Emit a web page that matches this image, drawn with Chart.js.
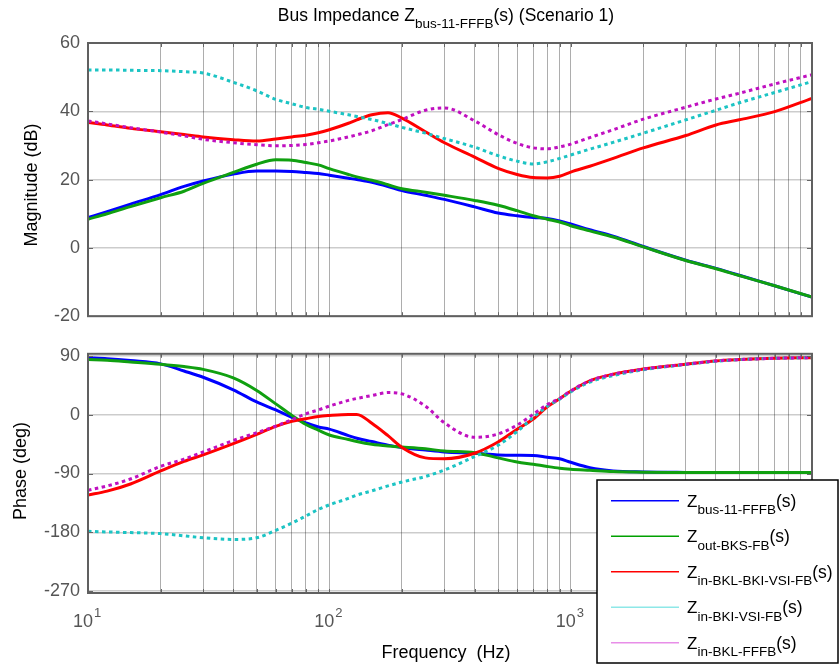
<!DOCTYPE html>
<html>
<head>
<meta charset="utf-8">
<script src="https://cdn.jsdelivr.net/npm/chart.js@4.4.1/dist/chart.umd.min.js"></script>
<style>
  html, body { margin: 0; padding: 0; background: #fff; }
  #wrap { position: relative; width: 839px; height: 668px; background: #fff; }
  canvas { position: absolute; left: 0; }
  #magChart { top: 0; }
  #phaseChart { top: 335px; }
</style>
</head>
<body>
<div id="wrap">
  <canvas id="magChart" width="839" height="335"></canvas>
  <canvas id="phaseChart" width="839" height="333"></canvas>
</div>
<script>
// ---- data ----
const freqHz = [10, 12, 15, 20, 25, 30, 40, 50, 60, 70, 80, 90, 100, 120, 130, 150, 175, 200, 250, 300,
                400, 500, 600, 700, 800, 900, 1000, 1200, 1500, 2000, 3000, 4000, 5000, 7000, 10000];

// magnitude (dB)
const magBus    = [8.9, 10.6, 12.8, 15.6, 18.0, 19.6, 21.6, 22.5, 22.5, 22.4, 22.1, 21.8, 21.3, 20.4, 20.0, 19.2, 18.0, 16.8, 15.4, 14.2,
                   12.0, 10.2, 9.4, 8.9, 8.6, 7.9, 7.0, 5.3, 3.4, 0.4, -3.6, -6.0, -8.0, -11.1, -14.4];
const magOut    = [8.4, 10.0, 12.1, 14.7, 16.6, 18.9, 22.1, 24.5, 25.8, 25.7, 25.0, 24.3, 23.2, 21.5, 20.8, 19.8, 18.5, 17.3, 16.3, 15.4,
                   13.9, 12.5, 10.9, 9.4, 8.4, 7.6, 6.5, 5.0, 3.2, 0.3, -3.7, -6.1, -8.1, -11.1, -14.4];
const magInBkl  = [36.7, 36.0, 35.0, 34.0, 33.2, 32.5, 31.7, 31.3, 31.9, 32.5, 33.0, 33.7, 34.6, 36.5, 37.5, 39.0, 39.6, 38.0, 34.0, 30.8,
                   26.6, 23.3, 21.5, 20.6, 20.5, 21.0, 22.2, 23.9, 26.2, 29.3, 32.9, 36.0, 37.5, 39.9, 43.8];
const magInVsi  = [52.1, 52.1, 52.0, 51.9, 51.6, 51.2, 48.5, 46.0, 43.5, 42.2, 41.1, 40.6, 40.0, 39.0, 38.5, 37.6, 36.4, 35.3, 33.6, 32.0,
                   29.5, 27.0, 25.4, 24.6, 25.2, 26.2, 27.2, 28.9, 30.9, 33.6, 37.5, 40.3, 42.5, 45.5, 48.7];
const magInFffb = [37.2, 36.3, 35.2, 33.9, 32.8, 31.8, 30.8, 30.2, 29.9, 30.0, 30.3, 30.8, 31.3, 32.5, 33.1, 34.3, 36.1, 37.6, 40.3, 41.0,
                   37.2, 33.2, 30.6, 29.3, 29.0, 29.6, 30.4, 32.3, 34.6, 37.7, 41.2, 43.6, 45.3, 48.0, 50.7];

// phase (deg)
const phBus     = [87.5, 86, 83, 78, 67, 57.5, 38.3, 19.6, 7.4, -4, -12.4, -18.7, -22, -32, -36, -41, -46.5, -50, -54, -57,
                   -59, -61.5, -62, -62.2, -65, -67.4, -72.8, -81, -86, -87.6, -88.3, -88.5, -88.5, -88.5, -88.5];
const phOut     = [84.5, 83.5, 81, 77.5, 73.8, 69.5, 56.5, 37.3, 16.7, -1, -14.8, -23.6, -31, -37.9, -41, -45.3, -48, -49.5, -52.2, -55.5,
                   -58, -66, -72.3, -75.8, -79.2, -81.8, -83.3, -85, -87, -88, -88.3, -88.5, -88.5, -88.5, -88.5];
const phInBkl   = [-123, -117, -106, -86, -71.4, -61.5, -44.3, -30, -17.7, -9.9, -6, -2.5, -1, 0.5, 0.5, -13, -32, -50, -66, -67.4,
                   -59, -41.8, -22.1, -6.4, 12.2, 24.5, 36, 52, 62, 70, 77.5, 82.5, 84.5, 86.5, 87.5];
const phInVsi   = [-178.6, -179.5, -180.5, -182, -185.4, -188.4, -190.9, -188.4, -177, -166, -155, -145, -138, -128, -123, -116.5, -109, -103, -94.5, -84.6,
                   -64, -46.8, -25.6, -4, 13, 24, 35, 50, 60, 69, 77, 82, 84.5, 86.5, 87.5];
const phInFffb  = [-115.6, -109, -98.4, -79, -67.9, -57, -39.4, -27.6, -17.3, -7.4, 1.5, 7.4, 13.3, 22, 25, 29.5, 34, 32, 13.3, -12.4,
                   -34.5, -29.5, -15.8, 1, 15.7, 25, 36.5, 52, 62, 70, 77.5, 82.5, 84.5, 86.5, 87.5];

const magTicks = [-20, 0, 20, 40, 60];
const phaseTicks = [-270, -180, -90, 0, 90];
const decadeTicks = [10, 100, 1000, 10000];
const decadeExp = ['1', '2', '3', '4'];
const seriesSubs = ['bus-11-FFFB', 'out-BKS-FB', 'in-BKL-BKI-VSI-FB', 'in-BKI-VSI-FB', 'in-BKL-FFFB'];
const lineColors = ['#0000ff', '#10a010', '#ff0000', '#1cc4c4', '#c010c0'];
const legendColors = ['#0000ff', '#00a000', '#ff0000', '#8ee8e8', '#e88ee8'];
const dotted = [false, false, false, true, true];

// grid lines at 1..9 per decade
const gridFreqs = [];
decadeTicks.slice(0, 3).forEach(d => { for (let k = 1; k < 10; k++) gridFreqs.push(k * d); });
gridFreqs.push(10000);

const FONT = "'Liberation Sans', Arial, sans-serif";
const AXIS_GREY = '#555555';

// -----------------------------------------------------------
function buildDatasets(series) {
  return series.map((arr, i) => ({
    data: freqHz.map((f, j) => ({ x: f, y: arr[j] })),
    borderColor: lineColors[i],
    borderWidth: 3,
    borderDash: dotted[i] ? [3.5, 3.5] : [],
    borderCapStyle: 'butt',
    pointRadius: 0,
    cubicInterpolationMode: 'monotone',
    order: 5 - i
  }));
}

// draw text pieces with sub/superscripts side by side
function drawParts(ctx, x, y, parts, align) {
  let total = 0;
  parts.forEach(p => { ctx.font = p.size + 'px ' + FONT; p.w = ctx.measureText(p.t).width; total += p.w; });
  let cx = x;
  if (align === 'center') cx = x - total / 2;
  if (align === 'right') cx = x - total;
  ctx.textAlign = 'left';
  ctx.textBaseline = 'alphabetic';
  parts.forEach(p => {
    ctx.font = p.size + 'px ' + FONT;
    ctx.fillText(p.t, cx, y + (p.dy || 0));
    cx += p.w;
  });
}

function drawYTitle(ctx, text, x, y) {
  ctx.save();
  ctx.translate(x, y);
  ctx.rotate(-Math.PI / 2);
  ctx.fillStyle = '#000';
  ctx.font = '18px ' + FONT;
  ctx.textAlign = 'center';
  ctx.textBaseline = 'alphabetic';
  ctx.fillText(text, 0, 0);
  ctx.restore();
}

const framePlugin = {
  id: 'frame',
  afterDatasetsDraw(chart) {
    const { ctx, chartArea: a, scales } = chart;
    ctx.save();
    ctx.strokeStyle = '#666';
    ctx.lineWidth = 1;
    ctx.beginPath();
    gridFreqs.forEach(f => {
      const px = Math.round(scales.x.getPixelForValue(f)) + 0.5;
      ctx.moveTo(px, a.top); ctx.lineTo(px, a.top + 4);
      ctx.moveTo(px, a.bottom); ctx.lineTo(px, a.bottom - 4);
    });
    scales.y.ticks.forEach(t => {
      const py = Math.round(scales.y.getPixelForValue(t.value)) + 0.5;
      ctx.moveTo(a.left, py); ctx.lineTo(a.left + 5, py);
      ctx.moveTo(a.right, py); ctx.lineTo(a.right - 5, py);
    });
    ctx.stroke();
    ctx.strokeStyle = '#606060';
    ctx.lineWidth = 2;
    ctx.strokeRect(a.left, a.top, a.right - a.left, a.bottom - a.top);
    ctx.restore();
  }
};

function makeChart(id, series, yMin, yMax, yTicks, padTop, xHeight, textPlugin) {
  return new Chart(document.getElementById(id), {
    type: 'line',
    data: { datasets: buildDatasets(series) },
    options: {
      responsive: false,
      animation: false,
      devicePixelRatio: 1,
      layout: { padding: { top: padTop, right: 27, left: 0, bottom: 0 } },
      plugins: { legend: { display: false }, tooltip: { enabled: false } },
      scales: {
        x: {
          type: 'logarithmic', min: 10, max: 10000,
          afterBuildTicks: s => { s.ticks = gridFreqs.map(v => ({ value: v })); },
          afterFit: s => { s.height = xHeight; },
          ticks: { display: false },
          grid: { color: 'rgba(0,0,0,0.32)', lineWidth: 1, drawTicks: false },
          border: { display: false }
        },
        y: {
          min: yMin, max: yMax,
          afterBuildTicks: s => { s.ticks = yTicks.map(v => ({ value: v })); },
          afterFit: s => { s.width = 88; },
          ticks: { font: { family: FONT, size: 18 }, color: AXIS_GREY, padding: 8, callback: v => String(v) },
          grid: { color: 'rgba(0,0,0,0.2)', lineWidth: 1.5, drawTicks: false },
          border: { display: false }
        }
      }
    },
    plugins: [framePlugin, textPlugin]
  });
}

const magText = {
  id: 'magText',
  afterDraw(chart) {
    const ctx = chart.ctx;
    ctx.save();
    ctx.fillStyle = '#000';
    drawParts(ctx, 446, 21, [
      { t: 'Bus Impedance Z', size: 17.5 },
      { t: 'bus-11-FFFB', size: 13.5, dy: 6.5 },
      { t: '(s) (Scenario 1)', size: 17.5 }
    ], 'center');
    drawYTitle(ctx, 'Magnitude (dB)', 36.5, 185);
    ctx.restore();
  }
};

const phaseText = {
  id: 'phaseText',
  afterDraw(chart) {
    const ctx = chart.ctx;
    const xs = chart.scales.x;
    ctx.save();
    drawYTitle(ctx, 'Phase (deg)', 26, 136);

    // decade labels 10^n
    ctx.fillStyle = AXIS_GREY;
    decadeTicks.forEach((d, i) => {
      const px = xs.getPixelForValue(d);
      ctx.font = '18px ' + FONT;
      ctx.textAlign = 'right';
      ctx.textBaseline = 'alphabetic';
      ctx.fillText('10', px + 5, 292);
      ctx.font = '13px ' + FONT;
      ctx.textAlign = 'left';
      ctx.fillText(decadeExp[i], px + 6, 281.5);
    });

    ctx.fillStyle = '#000';
    ctx.font = '18px ' + FONT;
    ctx.textAlign = 'center';
    ctx.fillText('Frequency  (Hz)', 446, 323);

    // legend box
    const bx = 597, by = 145, bw = 241, bh = 183;
    ctx.fillStyle = '#fff';
    ctx.fillRect(bx, by, bw, bh);
    ctx.strokeStyle = '#000';
    ctx.lineWidth = 1.5;
    ctx.strokeRect(bx, by, bw, bh);
    seriesSubs.forEach((sub, i) => {
      const ly = 165.7 + i * 35.5;
      ctx.strokeStyle = legendColors[i];
      ctx.lineWidth = 1.5;
      ctx.beginPath();
      ctx.moveTo(611, ly); ctx.lineTo(679, ly);
      ctx.stroke();
      ctx.fillStyle = '#000';
      drawParts(ctx, 687, ly + 6, [
        { t: 'Z', size: 17 },
        { t: sub, size: 13.5, dy: 7.5 },
        { t: '(s)', size: 17.5 }
      ], 'left');
    });
    ctx.restore();
  }
};

makeChart('magChart', [magBus, magOut, magInBkl, magInVsi, magInFffb], -20, 60, magTicks, 43, 12, magText);
makeChart('phaseChart', [phBus, phOut, phInBkl, phInVsi, phInFffb], -273, 93.4, phaseTicks, 10, 75, phaseText);
</script>
</body>
</html>
